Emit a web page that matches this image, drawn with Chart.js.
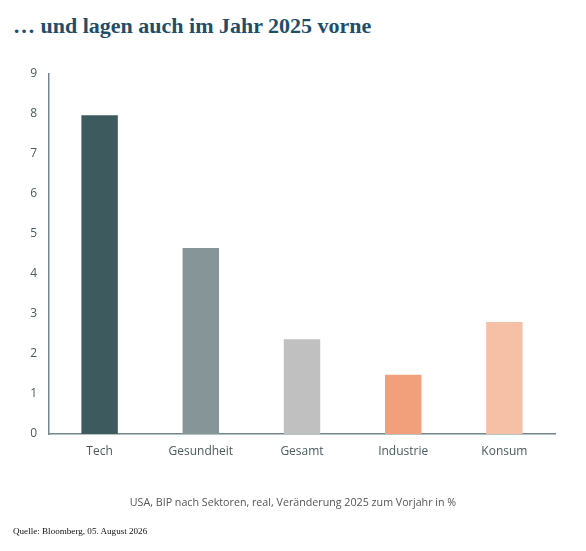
<!DOCTYPE html>
<html><head><meta charset="utf-8">
<script src="https://cdn.jsdelivr.net/npm/chart.js@4"></script>
<style>
html,body{margin:0;padding:0;background:#fff;width:586px;height:551px;overflow:hidden;position:relative}
#title{position:absolute;left:13px;top:13px;font-family:"Liberation Serif",serif;font-weight:bold;font-size:22px;color:#1f4e6b;white-space:nowrap}
#caption{position:absolute;left:0;width:586px;top:495px;text-align:center;font-family:"Open Sans",sans-serif;font-size:10.7px;color:#555}
#source{position:absolute;left:13px;top:526px;font-family:"Liberation Serif",serif;font-size:9.1px;color:#111;white-space:nowrap}
canvas{position:absolute;left:0;top:0}
</style></head><body>
<div id="title">… und lagen auch im Jahr 2025 vorne</div>
<canvas id="c" width="586" height="551"></canvas>
<div id="caption">USA, BIP nach Sektoren, real, Veränderung 2025 zum Vorjahr in %</div>
<div id="source">Quelle: Bloomberg, 05. August 2026</div>
<script>
const categories = ["Tech", "Gesundheit", "Gesamt", "Industrie", "Konsum"];
const values = [7.97, 4.65, 2.37, 1.48, 2.8];
const barColors = ["#3d5b5f", "#869598", "#c0c0c0", "#f1a07b", "#f6c0a6"];
const yTicks = [0, 1, 2, 3, 4, 5, 6, 7, 8, 9];

new Chart(document.getElementById('c'), {
  type: 'bar',
  data: {
    labels: categories,
    datasets: [{ data: values, backgroundColor: barColors, borderWidth: 0, barPercentage: 0.36, categoryPercentage: 1 }]
  },
  options: {
    responsive: false,
    animation: false,
    devicePixelRatio: 1,
    layout: { padding: { top: 74, right: 31, bottom: 0, left: 0 } },
    plugins: { legend: { display: false }, tooltip: { enabled: false } },
    scales: {
      x: {
        grid: { display: false, drawTicks: false },
        border: { display: true, color: '#6f878c', width: 1.5 },
        ticks: { padding: 10, color: '#4a5a5e', font: { family: 'Open Sans', size: 12 } },
        afterFit: s => { s.height = 117; }
      },
      y: {
        min: 0, max: 9,
        afterBuildTicks: s => { s.ticks = yTicks.map(v => ({ value: v })); },
        grid: { display: false, drawTicks: false },
        border: { display: true, color: '#6f878c', width: 1.5 },
        ticks: { padding: 12, color: '#4a5a5e', font: { family: 'Open Sans', size: 12 } },
        afterFit: s => { s.width = 49; }
      }
    }
  }
});
</script>
</body></html>
